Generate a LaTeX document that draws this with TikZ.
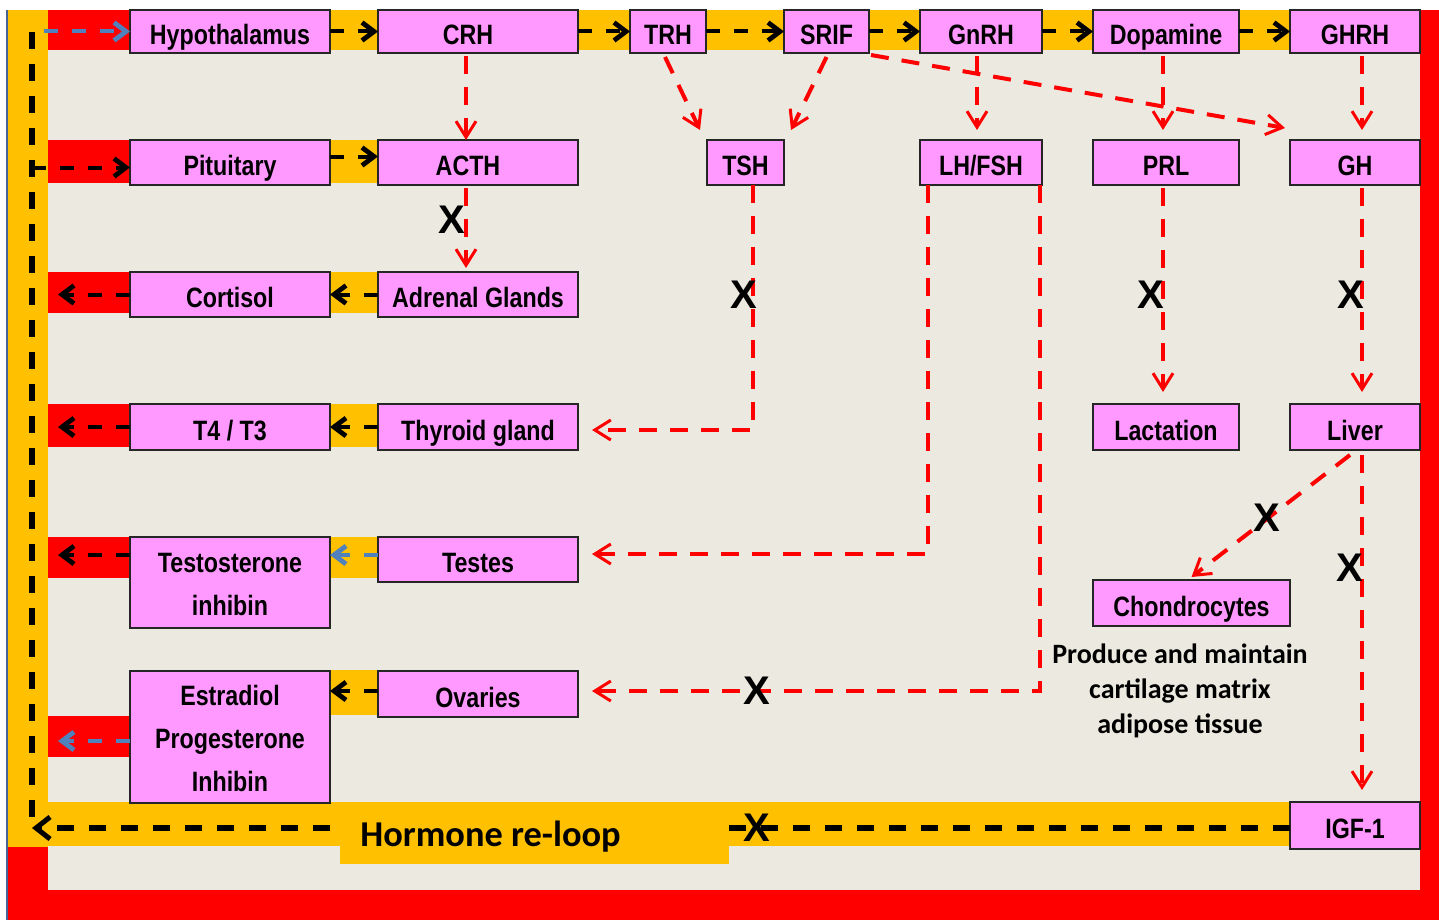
\documentclass[tikz,border=0pt]{standalone}
\usepackage{fontspec}
\setmainfont{Liberation Sans}
\newfontfamily\boxfont[FakeStretch=0.83]{Liberation Sans}
\newfontfamily\calfont{Carlito}
\usetikzlibrary{arrows.meta,calc}
\definecolor{cream}{RGB}{236,234,224}
\definecolor{orng}{RGB}{255,192,0}
\definecolor{redc}{RGB}{255,0,0}
\definecolor{pinkc}{RGB}{255,153,255}
\definecolor{steel}{RGB}{79,129,189}
\definecolor{frameblue}{RGB}{70,100,150}
\tikzset{
  pbox/.style={draw=black!85, line width=1pt, fill=pinkc, inner sep=0pt, outer sep=0pt,
    align=center, font=\boxfont\bfseries\fontsize{14}{21.5}\selectfont,
    text height=13pt, text depth=0pt},
  multi/.style={text height={}, text depth={}},
  redarr/.style={draw=redc, line width=2pt, dash pattern=on 9pt off 6.5pt,
    -{Straight Barb[length=8pt,width=10pt,line width=1.5pt]}},
  blackarr/.style={draw=black, line width=2pt, dash pattern=on 7pt off 7pt,
    -{Straight Barb[length=6pt,width=9pt,line width=2.4pt]}},
  bluearr/.style={draw=steel, line width=2pt, dash pattern=on 7pt off 7pt,
    -{Straight Barb[length=6pt,width=9pt,line width=2.4pt]}},
  loopline/.style={draw=black, line width=3pt, dash pattern=on 8.5pt off 7.5pt},
  xmark/.style={font=\bfseries\fontsize{20}{20}\selectfont, inner sep=0pt},
  desc/.style={font=\calfont\bfseries\fontsize{14}{17.5}\selectfont, align=center},
  reloop/.style={font=\calfont\bfseries\fontsize{18.2}{20}\selectfont, inner sep=0pt}
}
\newcommand\mybox[7][]{\node[pbox, #1, minimum width={(#5-#3)*0.5pt}, minimum height={(#6-#4)*0.5pt}] (#2) at ({(#3+#5)/2},{(#4+#6)/2}) {#7};}
\begin{document}
\begin{tikzpicture}[x=0.5pt,y=-0.5pt]
\useasboundingbox (0,0) rectangle (1439,920);
% background frame
\fill[white] (0,0) rectangle (1439,920);
\fill[cream] (8,10) rectangle (1420,890);
\fill[redc] (8,890) rectangle (1439,920);
\fill[redc] (1420,10) rectangle (1439,920);
\fill[orng] (8,10) rectangle (48,847);
\fill[redc] (8,847) rectangle (48,890);
\fill[orng] (48,802) rectangle (1290,846);
\draw[frameblue, line width=1pt] (7,10) -- (7,920);
% top orange band
\fill[orng] (330,10) rectangle (1290,50);
% red strips on left
\fill[redc] (48,10) rectangle (130,50);
\fill[redc] (48,140) rectangle (130,183);
\fill[redc] (48,272) rectangle (130,313);
\fill[redc] (48,404) rectangle (130,447);
\fill[redc] (48,537) rectangle (130,578);
\fill[redc] (48,716) rectangle (130,757);
% orange connectors
\fill[orng] (330,140) rectangle (378,183);
\fill[orng] (330,272) rectangle (378,313);
\fill[orng] (330,404) rectangle (378,447);
\fill[orng] (330,537) rectangle (378,578);
\fill[orng] (330,670) rectangle (378,715);
% boxes row 1
\mybox{hyp}{130}{10}{330}{53}{Hypothalamus}
\mybox{crh}{378}{10}{578}{53}{CRH\hspace{10pt}}
\mybox{trh}{630}{10}{706}{53}{TRH}
\mybox{srif}{784}{10}{869}{53}{SRIF}
\mybox{gnrh}{920}{10}{1042}{53}{GnRH}
\mybox{dop}{1093}{10}{1239}{53}{Dopamine}
\mybox{ghrh}{1290}{10}{1420}{53}{GHRH}
% row 2
\mybox{pit}{130}{140}{330}{185}{Pituitary}
\mybox{acth}{378}{140}{578}{185}{ACTH\hspace{10pt}}
\mybox{tsh}{707}{140}{784}{185}{TSH}
\mybox{lhfsh}{920}{140}{1042}{185}{LH/FSH}
\mybox{prl}{1093}{140}{1239}{185}{PRL}
\mybox{gh}{1290}{140}{1420}{185}{GH}
% row 3
\mybox{cort}{130}{272}{330}{317}{Cortisol}
\mybox{adr}{378}{272}{578}{317}{Adrenal Glands}
% row 4
\mybox{t4}{130}{404}{330}{450}{T4 / T3}
\mybox{thy}{378}{404}{578}{450}{Thyroid gland}
\mybox{lact}{1093}{404}{1239}{450}{Lactation}
\mybox{liver}{1290}{404}{1420}{450}{Liver}
% row 5
\mybox[multi]{testo}{130}{537}{330}{628}{\rule{0pt}{11.5pt}Testosterone\\inhibin}
\mybox{testes}{378}{537}{578}{582}{Testes}
\mybox{chon}{1093}{580}{1290}{626}{Chondrocytes}
% row 6
\mybox[multi]{estra}{130}{671}{330}{803}{\rule{0pt}{11.5pt}Estradiol\\Progesterone\\Inhibin}
\mybox{ov}{378}{671}{578}{717}{Ovaries}
\mybox{igf}{1290}{802}{1420}{849}{IGF-1}
% description
\node[desc] (note) at (1180,691) {Produce and maintain\\cartilage matrix\\adipose tissue};
% hormone loop
\coordinate (corner) at (32,828);
\coordinate (looptop) at (32,32);
\draw[loopline] (looptop) -- (corner);
\draw[loopline, -{Straight Barb[length=7pt,width=11pt,line width=2.5pt]}] (igf.west |- corner) -- (corner);
\fill[orng] (340,812) rectangle (729,864);
\node[reloop, anchor=base west] (reloopl) at (360,846) {Hormone re-loop};
% inputs from loop
\coordinate (pitin) at ($(pit.west)+(0,5)$);
\draw[blackarr] (looptop |- pitin) -- (pitin);
\draw[bluearr] ($(hyp.west)+(-86,0)$) -- (hyp.west);
% top row black arrows
\draw[blackarr] (hyp.east) -- (crh.west);
\draw[blackarr] (crh.east) -- (trh.west);
\draw[blackarr] (trh.east) -- (srif.west);
\draw[blackarr] (srif.east) -- (gnrh.west);
\draw[blackarr] (gnrh.east) -- (dop.west);
\draw[blackarr] (dop.east) -- (ghrh.west);
\draw[blackarr] ($(pit.east)+(0,-6)$) -- ($(acth.west)+(0,-6)$);
% left column arrows
\draw[blackarr] (adr.west) -- (cort.east);
\draw[blackarr] (thy.west) -- (t4.east);
\draw[bluearr] ($(testes.north west)+(0,18)$) -- ($(testo.north east)+(0,18)$);
\draw[blackarr] ($(ov.north west)+(0,20)$) -- ($(estra.north east)+(0,20)$);
\draw[blackarr] (cort.west) -- ++(-72,0);
\draw[blackarr] (t4.west) -- ++(-72,0);
\draw[blackarr] ($(testo.north west)+(0,18)$) -- ++(-72,0);
\draw[bluearr] ($(estra.north west)+(0,70)$) -- ++(-72,0);
% red connectors
\draw[redarr] ($(crh.south)+(-12,3)$) -- ($(acth.north)+(-12,0)$);
\draw[redarr] ($(acth.south)+(-12,3)$) -- ($(adr.north)+(-12,-4)$);
\draw[redarr] ($(trh.south)+(-3,4)$) -- ($(tsh.north west)+(-7,-10)$);
\draw[redarr] ($(srif.south)+(0,4)$) -- ($(tsh.north east)+(7,-10)$);
\draw[redarr] ($(srif.south east)+(2,2)$) -- ($(gh.north west)+(-5,-12)$);
\draw[redarr] ($(gnrh.south)+(-4,3)$) -- ($(lhfsh.north)+(-4,-10)$);
\draw[redarr] ($(dop.south)+(-3,3)$) -- ($(prl.north)+(-3,-10)$);
\draw[redarr] ($(ghrh.south)+(7,3)$) -- ($(gh.north)+(7,-10)$);
\draw[redarr] ($(tsh.south)+(7,0)$) |- ($(thy.east)+(14,3)$);
\draw[redarr] ($(lhfsh.south west)+(8,0)$) |- ($(testes.north east)+(14,17)$);
\draw[redarr] ($(lhfsh.south east)+(-2,0)$) |- ($(ov.north east)+(14,20)$);
\draw[redarr] ($(prl.south)+(-3,3)$) -- ($(lact.north)+(-3,-12)$);
\draw[redarr] ($(gh.south)+(7,3)$) -- ($(liver.north)+(7,-12)$);
\draw[redarr] ($(liver.south)+(-5,5)$) -- ($(chon.north)+(0,-3)$);
\draw[redarr] ($(liver.south)+(7,5)$) -- ($(igf.north)+(7,-12)$);
% X marks
\node[xmark] (x1) at (452,220) {X};
\node[xmark] (x2) at (744,295) {X};
\node[xmark] (x3) at (1151,295) {X};
\node[xmark] (x4) at (1351,295) {X};
\node[xmark] (x5) at (1267,518) {X};
\node[xmark] (x6) at (1350,568) {X};
\node[xmark] (x7) at (757,691) {X};
\node[xmark] (x8) at (757,828) {X};
\end{tikzpicture}
\end{document}
